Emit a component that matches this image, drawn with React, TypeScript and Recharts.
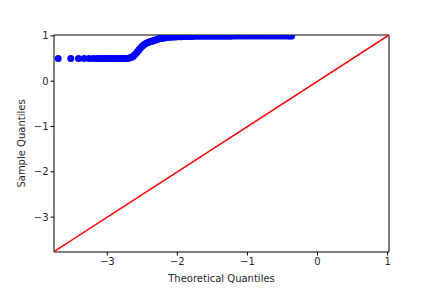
import { ScatterChart, Scatter, XAxis, YAxis, ReferenceLine, ReferenceArea } from "recharts"

// theoretical quantiles (x) and sample quantiles (y)
const theoretical = [
  -3.70, -3.52, -3.41, -3.33, -3.26, -3.20, -3.15, -3.11, -3.07, -3.03,
  -3.00, -2.97, -2.94, -2.91, -2.88, -2.86, -2.83, -2.81, -2.79, -2.77,
  -2.75, -2.73, -2.71, -2.69, -2.67, -2.65, -2.63, -2.61, -2.59, -2.57,
  -2.55, -2.53, -2.51, -2.49, -2.47, -2.45, -2.43, -2.41, -2.39, -2.37,
  -2.35, -2.33, -2.31, -2.29, -2.27, -2.25, -2.23, -2.21, -2.19, -2.17,
  -2.15, -2.12, -2.09, -2.06, -2.03, -2.00, -1.97, -1.94, -1.91, -1.88,
  -1.85, -1.82, -1.79, -1.76, -1.72, -1.68, -1.64, -1.60, -1.56, -1.52,
  -1.48, -1.44, -1.40, -1.36, -1.32, -1.28, -1.24, -1.20, -1.16, -1.12,
  -1.08, -1.04, -1.00, -0.96, -0.92, -0.88, -0.84, -0.80, -0.76, -0.72,
  -0.68, -0.64, -0.60, -0.56, -0.52, -0.48, -0.44, -0.41, -0.39, -0.37
]

const sample = [
  0.50, 0.50, 0.50, 0.50, 0.50, 0.50, 0.50, 0.50, 0.50, 0.50,
  0.50, 0.50, 0.50, 0.50, 0.50, 0.50, 0.50, 0.50, 0.50, 0.50,
  0.50, 0.50, 0.50, 0.51, 0.52, 0.53, 0.55, 0.58, 0.61, 0.65,
  0.69, 0.73, 0.76, 0.79, 0.81, 0.83, 0.85, 0.86, 0.87, 0.88,
  0.89, 0.90, 0.91, 0.92, 0.93, 0.94, 0.945, 0.95, 0.955, 0.96,
  0.965, 0.97, 0.973, 0.976, 0.978, 0.98, 0.982, 0.984, 0.985, 0.986,
  0.987, 0.988, 0.989, 0.99, 0.99, 0.99, 0.991, 0.991, 0.992, 0.992,
  0.993, 0.993, 0.994, 0.994, 0.995, 0.995, 0.995, 0.996, 0.996, 0.996,
  0.997, 0.997, 0.997, 0.998, 0.998, 0.998, 0.998, 0.999, 0.999, 0.999,
  0.999, 0.999, 1.0, 1.0, 1.0, 1.0, 1.0, 1.0, 1.0, 1.0
]

const xTicks = [-3, -2, -1, 0, 1]
const yTicks = [-3, -2, -1, 0, 1]

const points = theoretical.map((t, i) => ({ x: t, y: sample[i] }))

const xMin = -3.76
const xMax = 1.02
const yMin = -3.77
const yMax = 1.02

const font = { fontFamily: "DejaVu Sans", fontSize: 10, fill: "#262626" }
const fmt = (v: number) => String(v).replace("-", "\u2212")

const Dot = (props: any) => <circle cx={props.cx} cy={props.cy} r={3.5} fill="#0000ff" />

export default function App() {
  return (
    <div style={{ position: "absolute", left: 0, top: 0, width: 432, height: 288, background: "#fff" }}>
      <ScatterChart width={432} height={288} margin={{ top: 35, right: 43, bottom: 0, left: 0 }}>
        <XAxis
          type="number"
          dataKey="x"
          domain={[xMin, xMax]}
          ticks={xTicks}
          tickFormatter={fmt}
          allowDataOverflow
          height={36}
          tick={font}
          tickSize={3.5}
          tickMargin={2}
          stroke="#000"
          axisLine={false}
          label={{ value: "Theoretical Quantiles", position: "insideBottom", offset: 6, style: font }}
        />
        <YAxis
          type="number"
          dataKey="y"
          domain={[yMin, yMax]}
          ticks={yTicks}
          tickFormatter={fmt}
          allowDataOverflow
          width={54}
          tick={font}
          tickSize={3.5}
          tickMargin={2}
          stroke="#000"
          axisLine={false}
          label={{ value: "Sample Quantiles", angle: -90, position: "insideLeft", offset: 21, style: { ...font, textAnchor: "middle" } }}
        />
        <Scatter data={points} shape={<Dot />} isAnimationActive={false} />
        <ReferenceLine
          segment={[{ x: xMin, y: xMin }, { x: xMax, y: xMax }]}
          stroke="#ff0000"
          strokeWidth={1.5}
          ifOverflow="hidden"
        />
        <ReferenceArea x1={xMin} x2={xMax} y1={yMin} y2={yMax} fill="none" stroke="#000" strokeWidth={1} ifOverflow="visible" />
      </ScatterChart>
    </div>
  )
}
